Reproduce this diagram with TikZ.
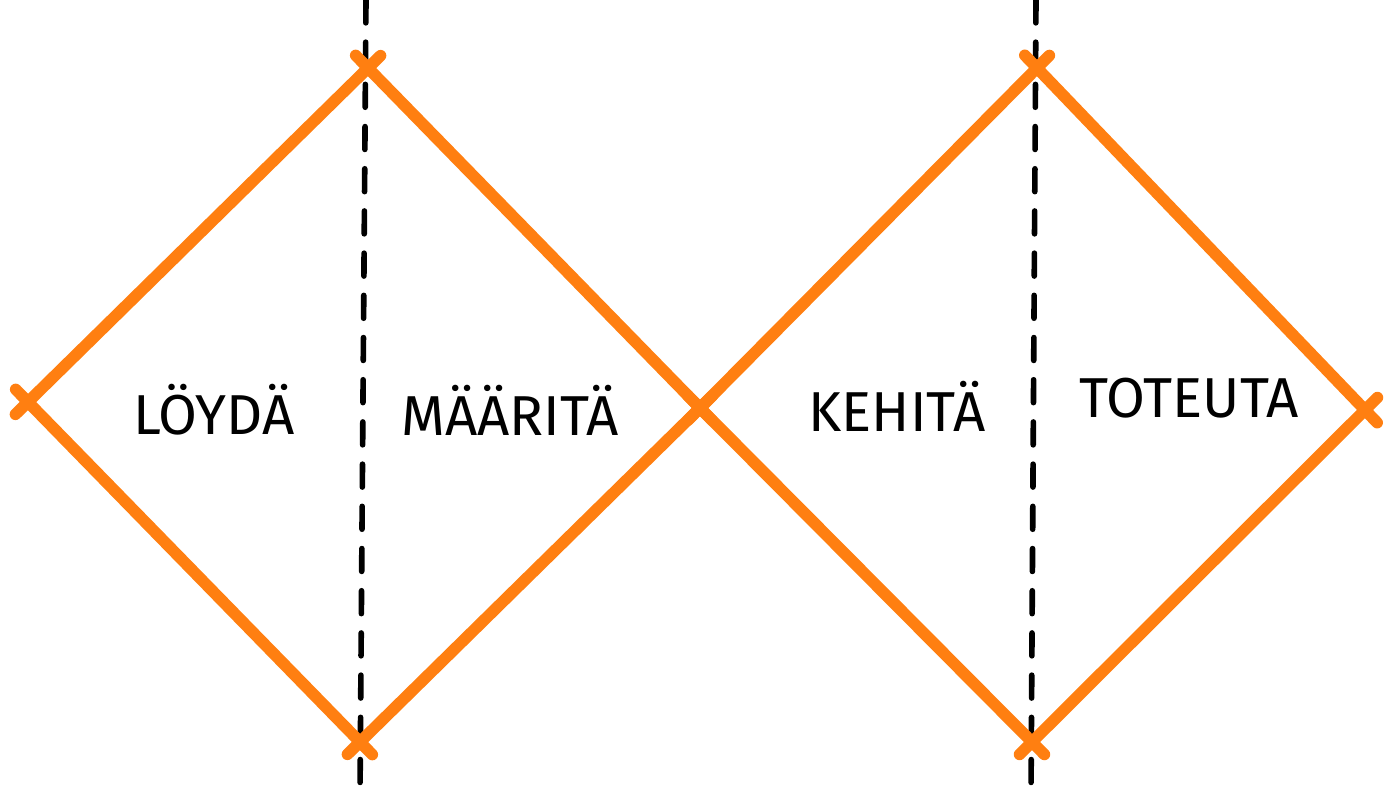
\documentclass[tikz,border=0pt]{standalone}
\usepackage{fontspec}
\setmainfont{Fira Sans}
\definecolor{kulma}{HTML}{FF7F11}
\begin{document}
\begin{tikzpicture}[
    x=0.01cm,
    y=-0.01cm,
    line cap=round,
    line join=round,
    reuna/.style={
        draw=kulma,
        line width=3.3pt,
        shorten <=-5pt,
        shorten >=-5pt
    },
    raja/.style={
        line width=1.6pt,
        dash pattern=on 6.5pt off 5.5pt
    },
    vaihe/.style={
        font=\fontsize{16}{19}\selectfont,
        text=black
    }
]

% -------------------------------------------------
% Kuvan rajat
% -------------------------------------------------

\useasboundingbox (0,0) rectangle (1393,795);

% -------------------------------------------------
% Timanttien kärjet
% -------------------------------------------------

\coordinate (V) at (28,402);     % vasen kärki
\coordinate (Y1) at (368,68);    % vasen yläkärki
\coordinate (A1) at (360,742);   % vasen alakärki
\coordinate (K) at (700,408);    % keskikohta
\coordinate (Y2) at (1037,68);   % oikea yläkärki
\coordinate (A2) at (1032,742);  % oikea alakärki
\coordinate (O) at (1365,410);   % oikea kärki

% Katkoviivojen päät
\coordinate (R1y) at (366,0);
\coordinate (R1a) at (360,795);
\coordinate (R2y) at (1036,0);
\coordinate (R2a) at (1031,795);

% -------------------------------------------------
% Katkoviivat
% -------------------------------------------------

\draw[raja] (R1y)--(R1a);
\draw[raja] (R2y)--(R2a);

% -------------------------------------------------
% Timanttien reunat
% -------------------------------------------------

\draw[reuna] (V)--(Y1);
\draw[reuna] (V)--(A1);
\draw[reuna] (Y1)--(K);
\draw[reuna] (A1)--(K);
\draw[reuna] (K)--(Y2);
\draw[reuna] (K)--(A2);
\draw[reuna] (Y2)--(O);
\draw[reuna] (A2)--(O);

% -------------------------------------------------
% Vaiheiden nimet
% -------------------------------------------------

\node[vaihe] (loyda) at (214,410) {LÖYDÄ};
\node[vaihe] (maarita) at (510,410) {MÄÄRITÄ};
\node[vaihe] (kehita) at (897,406) {KEHITÄ};
\node[vaihe] (toteuta) at (1189,398) {TOTEUTA};

\end{tikzpicture}
\end{document}
